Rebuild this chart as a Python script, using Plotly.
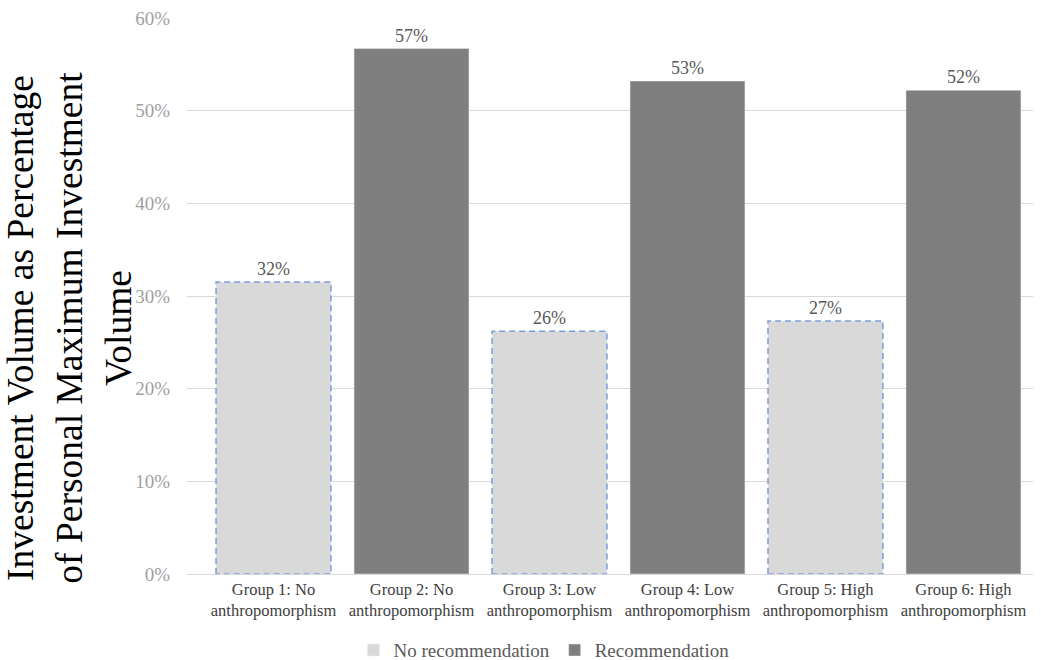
import plotly.graph_objects as go

# Category labels (one per group) and investment shares
groups = [
    "Group 1: No<br>anthropomorphism",
    "Group 2: No<br>anthropomorphism",
    "Group 3: Low<br>anthropomorphism",
    "Group 4: Low<br>anthropomorphism",
    "Group 5: High<br>anthropomorphism",
    "Group 6: High<br>anthropomorphism",
]
no_rec_idx = [0, 2, 4]
no_rec_vals = [0.315, 0.262, 0.273]
rec_idx = [1, 3, 5]
rec_vals = [0.567, 0.532, 0.522]

y_ticks = [0, 0.1, 0.2, 0.3, 0.4, 0.5, 0.6]

SERIF = "Liberation Serif"
BAR_W = 0.833

fig = go.Figure()

fig.add_trace(go.Bar(
    name="No recommendation",
    x=no_rec_idx, y=no_rec_vals, width=BAR_W,
    marker=dict(color="#D9D9D9"),
    text=no_rec_vals, texttemplate="%{y:.0%}", textposition="outside",
    textfont=dict(family=SERIF, size=18, color="#595959"),
))
fig.add_trace(go.Bar(
    name="Recommendation",
    x=rec_idx, y=rec_vals, width=BAR_W,
    marker=dict(color="#7F7F7F"),
    text=rec_vals, texttemplate="%{y:.0%}", textposition="outside",
    textfont=dict(family=SERIF, size=18, color="#595959"),
))

# dashed outline around the "No recommendation" bars
ox, oy = [], []
for i, v in zip(no_rec_idx, no_rec_vals):
    l, r = i - BAR_W / 2, i + BAR_W / 2
    ox += [l, l, r, r, l, None]
    oy += [0, v, v, 0, 0, None]
fig.add_trace(go.Scatter(
    x=ox, y=oy, mode="lines", showlegend=False, hoverinfo="skip",
    line=dict(color="#7C9DDB", width=1.5, dash="6px,4px"),
))

fig.update_layout(
    width=1041, height=660,
    margin=dict(l=187, r=8, t=18, b=86, autoexpand=False),
    paper_bgcolor="white", plot_bgcolor="white",
    barmode="overlay",
    font=dict(family=SERIF, size=16, color="#595959"),
    xaxis=dict(
        range=[-0.627, 5.504],
        tickmode="array", tickvals=list(range(len(groups))), ticktext=groups,
        tickfont=dict(family=SERIF, size=16.5, color="#404040"),
        showgrid=False, zeroline=False,
        showline=True, linecolor="#D9D9D9", linewidth=1,
        ticks="",
    ),
    yaxis=dict(
        range=[0, 0.6],
        tickmode="array", tickvals=y_ticks, tickformat=".0%",
        tickfont=dict(family=SERIF, size=19, color="#A0A0A0"),
        showgrid=True, gridcolor="#D9D9D9", gridwidth=1,
        zeroline=False, showline=False,
        ticks="outside", ticklen=12, tickcolor="rgba(0,0,0,0)",
    ),
    legend=dict(
        orientation="h", x=0.422, xanchor="center", y=-0.137, yanchor="middle",
        font=dict(family=SERIF, size=19, color="#595959"),
    ),
    annotations=[dict(
        text="Investment Volume as Percentage<br>of Personal Maximum Investment<br>Volume",
        textangle=-90, xref="paper", yref="paper",
        x=(70 - 187) / 846, y=0.443, xanchor="center", yanchor="middle",
        showarrow=False, align="center",
        font=dict(family=SERIF, size=37.5, color="#000000"),
    )],
)

fig.write_html("out.html")
